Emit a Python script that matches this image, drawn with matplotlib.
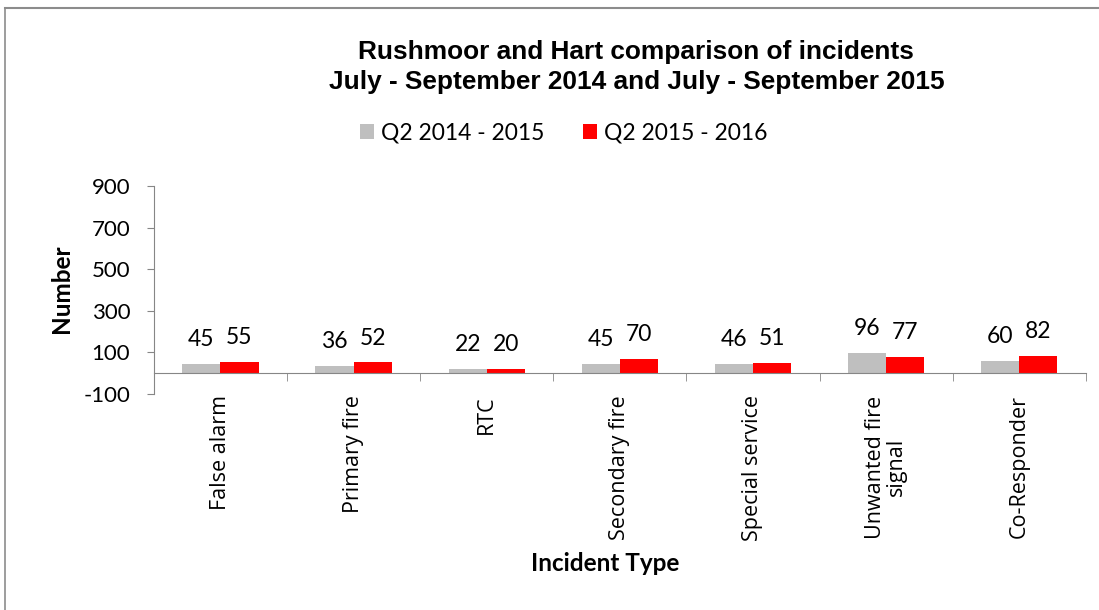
import numpy as np
import matplotlib.pyplot as plt
from matplotlib.lines import Line2D

categories = ["False alarm", "Primary fire", "RTC", "Secondary fire",
              "Special service", "Unwanted fire\nsignal", "Co-Responder"]
q2_2014 = [45, 36, 22, 45, 46, 96, 60]
q2_2015 = [55, 52, 20, 70, 51, 77, 82]
series_names = ["Q2 2014 - 2015", "Q2 2015 - 2016"]

grey = "#BFBFBF"
red = "#FF0000"
axis_col = "#868686"
lab_font = ["Lato", "DejaVu Sans"]
cat_font = ["Open Sans", "DejaVu Sans"]
plt.rcParams["axes.unicode_minus"] = False

fig = plt.figure(figsize=(10.99, 6.10), dpi=100)
ax = fig.add_axes([0.140, 0.354, 0.848, 0.341])

x = np.arange(len(categories))
w = 0.286
b1 = ax.bar(x - w/2, q2_2014, w, color=grey, label=series_names[0])
b2 = ax.bar(x + w/2, q2_2015, w, color=red, label=series_names[1])

for bars, vals in [(b1, q2_2014), (b2, q2_2015)]:
    for r, v in zip(bars, vals):
        ax.annotate(str(v), (r.get_x() + r.get_width()/2, v), xytext=(0, 10),
                    textcoords="offset points", ha="center", va="bottom",
                    fontsize=16.5, family=lab_font)

ax.set_xlim(-0.5, len(categories) - 0.5)
ax.set_ylim(-100, 900)
ax.set_yticks([-100, 100, 300, 500, 700, 900])
ax.tick_params(axis="y", labelsize=16, length=5, color=axis_col, pad=12)
for t in ax.get_yticklabels():
    t.set_family(lab_font)

ax.spines["top"].set_visible(False)
ax.spines["right"].set_visible(False)
ax.spines["left"].set_color(axis_col)
ax.spines["bottom"].set_color(axis_col)
ax.spines["bottom"].set_position(("data", 0))

ax.set_xticks(x)
ax.set_xticklabels(categories, rotation=90, fontsize=15.5, family=cat_font,
                   va="top", ha="center", linespacing=1.0)
ax.tick_params(axis="x", which="major", length=0, pad=16)
ax.set_xticks(np.arange(len(categories) + 1) - 0.5, minor=True)
ax.tick_params(axis="x", which="minor", length=6, color=axis_col)

fig.text(0.579, 0.915, "Rushmoor and Hart comparison of incidents",
         ha="center", va="center", fontsize=18.9, fontweight="bold",
         family="Liberation Sans")
fig.text(0.579, 0.866, "July - September 2014 and July - September 2015",
         ha="center", va="center", fontsize=18.9, fontweight="bold",
         family="Liberation Sans")

fig.legend(loc="center", bbox_to_anchor=(0.513, 0.782), ncol=2, frameon=False,
           prop={"family": lab_font, "size": 16.5}, handlelength=0.6,
           handleheight=0.6, handletextpad=0.3, columnspacing=1.7)

fig.text(0.056, 0.527, "Number", rotation=90, ha="center", va="center",
         fontsize=17.5, fontweight="bold", family=lab_font)
fig.text(0.551, 0.077, "Incident Type", ha="center", va="center",
         fontsize=17.5, fontweight="bold", family=lab_font)

# chart border
fig.add_artist(Line2D([0.0045, 1.0], [0.987, 0.987], color="#8C8C8C", lw=1.5,
                      transform=fig.transFigure))
fig.add_artist(Line2D([0.0045, 0.0045], [0.0, 0.987], color="#8C8C8C", lw=1.2,
                      transform=fig.transFigure))

fig.savefig("out.png", dpi=100)
